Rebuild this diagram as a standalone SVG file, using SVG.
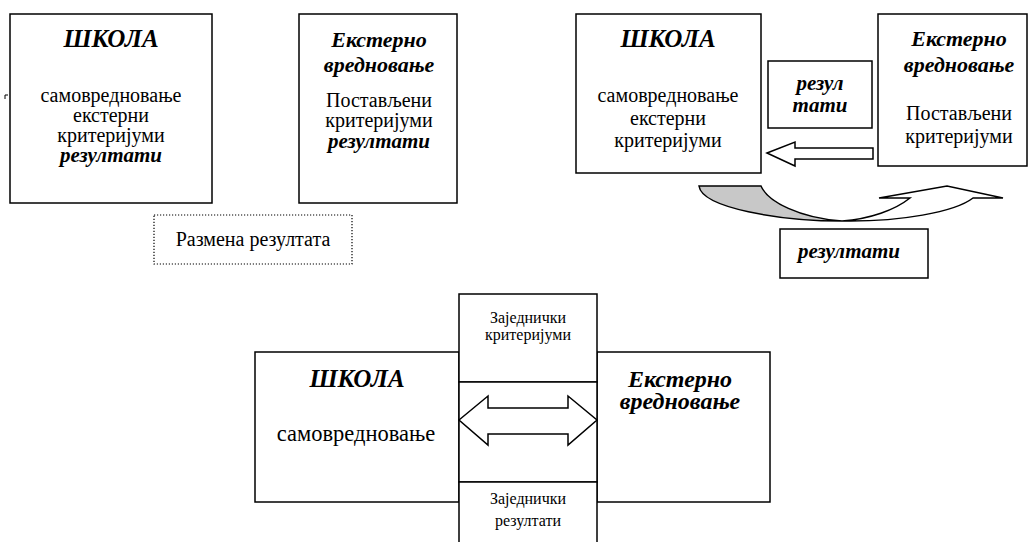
<svg xmlns="http://www.w3.org/2000/svg" width="1029" height="542" viewBox="0 0 1029 542">
<style>
.box{fill:#fff;stroke:#000;stroke-width:1.5}
.dot{fill:#fff;stroke:#000;stroke-width:1.2;stroke-dasharray:1.2 1.8}
.shape{fill:#fff;stroke:#000;stroke-width:1.5;stroke-linejoin:miter}
text{font-family:'Liberation Serif','Times New Roman','DejaVu Serif',serif;text-anchor:middle;fill:#000}
.r{font-size:20px}
.bi{font-weight:bold;font-style:italic;font-size:21px}
.hb{font-weight:bold;font-style:italic;font-size:22px}
.h{font-weight:bold;font-style:italic;font-size:25px}
.s{font-size:16px}
.r3{font-size:22.5px}
.bi3{font-weight:bold;font-style:italic;font-size:24px}
</style>
<rect width="1029" height="542" fill="#fff"/>
<path d="M5,99 L5,95 L8,95" fill="none" stroke="#000" stroke-width="1"/>
<g id="p1-school">
<rect class="box" x="10" y="14" width="202" height="189"/>
<text class="h" x="111" y="47">ШКОЛА</text>
<text class="r" x="111" y="102">самовредновање</text>
<text class="r" x="111" y="122">екстерни</text>
<text class="r" x="111" y="142">критеријуми</text>
<text class="bi" x="111" y="162">резултати</text>
</g>
<g id="p1-external">
<rect class="box" x="299" y="14" width="158" height="189"/>
<text class="hb" x="379" y="47">Екстерно</text>
<text class="hb" x="379" y="72">вредновање</text>
<text class="r" x="379" y="107">Постављени</text>
<text class="r" x="379" y="127">критеријуми</text>
<text class="bi" x="379" y="148">резултати</text>
</g>
<g id="p1-exchange">
<rect class="dot" x="154" y="215" width="198" height="49"/>
<text class="r" x="253" y="246">Размена резултата</text>
</g>
<g id="p2-school">
<rect class="box" x="576" y="14" width="185" height="159"/>
<text class="h" x="668" y="47">ШКОЛА</text>
<text class="r" x="668" y="102">самовредновање</text>
<text class="r" x="668" y="125">екстерни</text>
<text class="r" x="668" y="147">критеријуми</text>
</g>
<g id="p2-results-small">
<rect class="box" x="768" y="61" width="104" height="67"/>
<text class="bi" x="820" y="90">резул</text>
<text class="bi" x="820" y="112">тати</text>
</g>
<g id="p2-external">
<rect class="box" x="878" y="14" width="149" height="152"/>
<text class="hb" x="959" y="46">Екстерно</text>
<text class="hb" x="959" y="72">вредновање</text>
<text class="r" x="959" y="120">Постављени</text>
<text class="r" x="959" y="143">критеријуми</text>
</g>
<g id="p2-results">
<rect class="box" x="780" y="229" width="148" height="49"/>
<text class="bi" x="849" y="258">резултати</text>
</g>
<g id="p3-school">
<rect class="box" x="255" y="352" width="204" height="150"/>
<text class="h" x="357" y="387">ШКОЛА</text>
<text class="r3" x="356" y="441">самовредновање</text>
</g>
<g id="p3-external">
<rect class="box" x="597" y="352" width="173" height="150"/>
<text class="bi3" x="680" y="387">Екстерно</text>
<text class="bi3" x="680" y="409">вредновање</text>
</g>
<g id="p3-criteria">
<rect class="box" x="459" y="294" width="138" height="88"/>
<text class="s" x="528" y="323">Заједнички</text>
<text class="s" x="528" y="340">критеријуми</text>
</g>
<g id="p3-middle">
<rect class="box" x="459" y="382" width="138" height="100"/>
</g>
<g id="p3-results">
<rect class="box" x="459" y="482" width="138" height="70"/>
<text class="s" x="528" y="504">Заједнички</text>
<text class="s" x="528" y="526">резултати</text>
</g>
<g id="connectors">
<polygon class="shape" points="767,153 795,142 795,148 873,148 873,159 795,159 795,166"/>
<path d="M699,186 L761,186 C768,202 800,218 842,221 C780,221 702,208 699,186 Z" fill="#c8c8c8" stroke="#000" stroke-width="1.5"/>
<path class="shape" d="M842,221 C870,219 895,210 910,198 L879,198 L947,186 L1003,198 L973,198 C955,212 900,222 842,221 Z"/>
<polygon class="shape" points="459,420 488,396 488,408 568,408 568,396 597,420 568,445 568,434 488,434 488,445"/>
</g>
</svg>
